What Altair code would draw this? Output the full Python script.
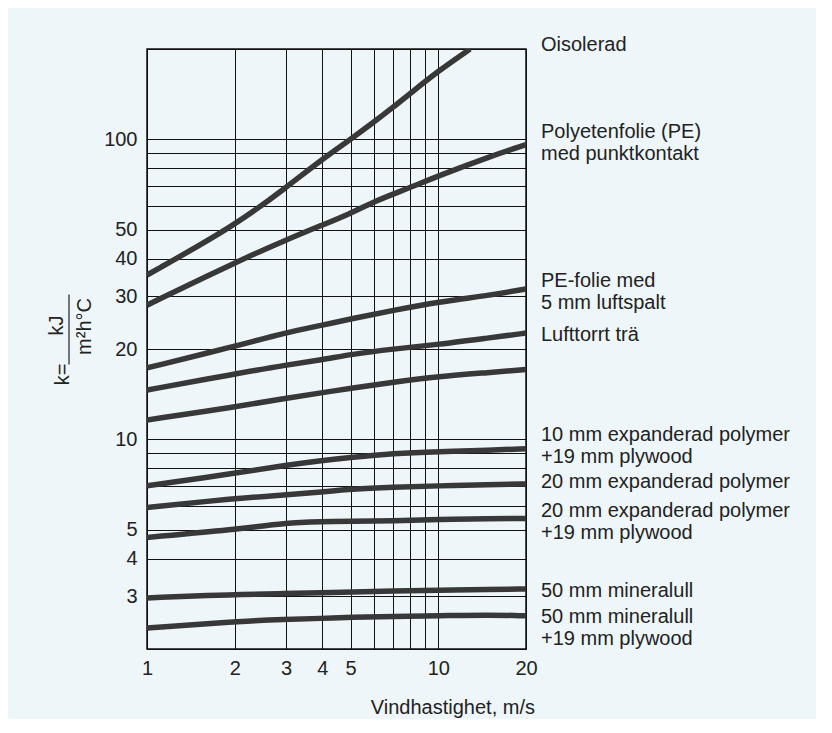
import altair as alt
import pandas as pd

# ---------------- data ----------------
x_std = [1, 2, 3, 4, 5, 7, 10, 15, 20]

oisolerad_x = [1, 2, 3, 4, 5, 6, 7, 8, 10, 12.85]
oisolerad_y = [35.3, 51.5, 69, 86, 100, 114, 128, 142, 169, 200]

pe_punkt_x = [1, 2, 3, 4, 5, 6, 8, 10, 15, 20]
pe_punkt_y = [28, 38.8, 46.2, 51.8, 56.6, 62, 69, 75.5, 87.5, 96]

pe_luft_y = [17.3, 20.4, 22.7, 24.0, 25.2, 26.9, 28.7, 30.2, 31.7]
tra_y = [14.6, 16.5, 17.7, 18.4, 19.2, 20.0, 20.7, 21.8, 22.6]
unlabelled_y = [11.6, 12.8, 13.7, 14.3, 14.8, 15.5, 16.2, 16.7, 17.1]
exp10_ply_y = [7.0, 7.7, 8.2, 8.5, 8.7, 8.97, 9.1, 9.2, 9.3]
exp20_y = [5.93, 6.35, 6.53, 6.68, 6.82, 6.92, 7.0, 7.05, 7.1]
exp20_ply_y = [4.71, 5.0, 5.27, 5.31, 5.33, 5.35, 5.41, 5.43, 5.45]
min50_y = [2.96, 3.04, 3.06, 3.08, 3.10, 3.12, 3.14, 3.16, 3.17]
min50_ply_y = [2.35, 2.47, 2.51, 2.53, 2.55, 2.57, 2.58, 2.60, 2.58]

label_texts = [
    "Oisolerad",
    "Polyetenfolie (PE)\nmed punktkontakt",
    "PE-folie med\n5 mm luftspalt",
    "Lufttorrt trä",
    "10 mm expanderad polymer\n+19 mm plywood",
    "20 mm expanderad polymer",
    "20 mm expanderad polymer\n+19 mm plywood",
    "50 mm mineralull",
    "50 mm mineralull\n+19 mm plywood",
]
# k-value at which the first line of each label sits
label_k = [205.5, 106, 33.8, 22.3, 10.3, 7.2, 5.75, 3.13, 2.55]

x_grid = [1, 2, 3, 4, 5, 6, 7, 8, 9, 10, 20]
x_labels = [1, 2, 3, 4, 5, 10, 20]
y_grid = [2, 3, 4, 5, 6, 7, 8, 9, 10, 20, 30, 40, 50, 60, 70, 80, 90, 100, 200]
y_labels = [3, 4, 5, 10, 20, 30, 40, 50, 100]

# ---------------- table ----------------
series = [
    ("A", oisolerad_x, oisolerad_y),
    ("B", pe_punkt_x, pe_punkt_y),
    ("C", x_std, pe_luft_y),
    ("D", x_std, tra_y),
    ("E", x_std, unlabelled_y),
    ("F", x_std, exp10_ply_y),
    ("G", x_std, exp20_y),
    ("H", x_std, exp20_ply_y),
    ("I", x_std, min50_y),
    ("J", x_std, min50_ply_y),
]
rows = []
for sid, xs, ys in series:
    for xv, yv in zip(xs, ys):
        rows.append({"series": sid, "v": xv, "k": yv})
df = pd.DataFrame(rows)

labels_df = pd.DataFrame({"text": label_texts, "k": label_k, "v": [20] * len(label_k)})

FONT = "Liberation Sans"
INK = "#222222"

xscale = alt.Scale(type="log", domain=[1, 20], nice=False)
yscale = alt.Scale(type="log", domain=[2, 200], nice=False)

def in_list(vals):
    return "indexof([" + ",".join(str(v) for v in vals) + "], datum.value) >= 0 ? datum.label : ''"

xaxis = alt.Axis(values=x_grid, format="d", labelExpr=in_list(x_labels), title=None,
                 ticks=False, domain=False, grid=True, gridColor="#111111", gridWidth=1,
                 labelFont=FONT, labelFontSize=20, labelColor=INK, labelPadding=9,
                 labelFlush=False, labelOverlap=False)
yaxis = alt.Axis(values=y_grid, format="d", labelExpr=in_list(y_labels), title=None,
                 ticks=False, domain=False, grid=True, gridColor="#111111", gridWidth=1,
                 labelFont=FONT, labelFontSize=20, labelColor=INK, labelPadding=10,
                 labelFlush=False, labelOverlap=False)

lines = alt.Chart(df).mark_line(
    clip=True, strokeWidth=5.5, color="#383838", interpolate="basis", strokeCap="butt"
).encode(
    x=alt.X("v:Q", scale=xscale, axis=xaxis),
    y=alt.Y("k:Q", scale=yscale, axis=yaxis),
    detail="series:N",
)

right_labels = alt.Chart(labels_df).mark_text(
    align="left", baseline="middle", dx=15, font=FONT, fontSize=20, color=INK,
    lineBreak="\n", lineHeight=22,
).encode(
    x=alt.X("v:Q", scale=xscale),
    y=alt.Y("k:Q", scale=yscale),
    text="text:N",
)

def note(txt, px, py, angle=0, align="center", size=20):
    return alt.Chart(pd.DataFrame({"t": [txt]})).mark_text(
        font=FONT, fontSize=size, color=INK, angle=angle, align=align, baseline="middle"
    ).encode(x=alt.value(px), y=alt.value(py), text="t:N")

x_title = note("Vindhastighet, m/s", 388, 658.5, align="right")
k_eq = note("k=", -84.5, 325.5, angle=270)
kj = note("kJ", -90, 276.5, angle=270)
den = note("m²h°C", -62, 277.5, angle=270)
bar = alt.Chart(pd.DataFrame({"t": [0]})).mark_rule(color=INK, strokeWidth=1.2).encode(
    x=alt.value(-78), y=alt.value(245.5), y2=alt.value(315.5)
)

chart = alt.layer(lines, right_labels, x_title, k_eq, kj, den, bar).properties(
    width=379, height=600,
    padding={"left": 139, "top": 41, "right": 290, "bottom": 70},
    autosize=alt.AutoSizeParams(type="none"),
    background="#eef6f9",
).configure_view(stroke="#111111", strokeWidth=1.5)

chart.save("out.html", embed_options={"renderer": "svg", "actions": False})
